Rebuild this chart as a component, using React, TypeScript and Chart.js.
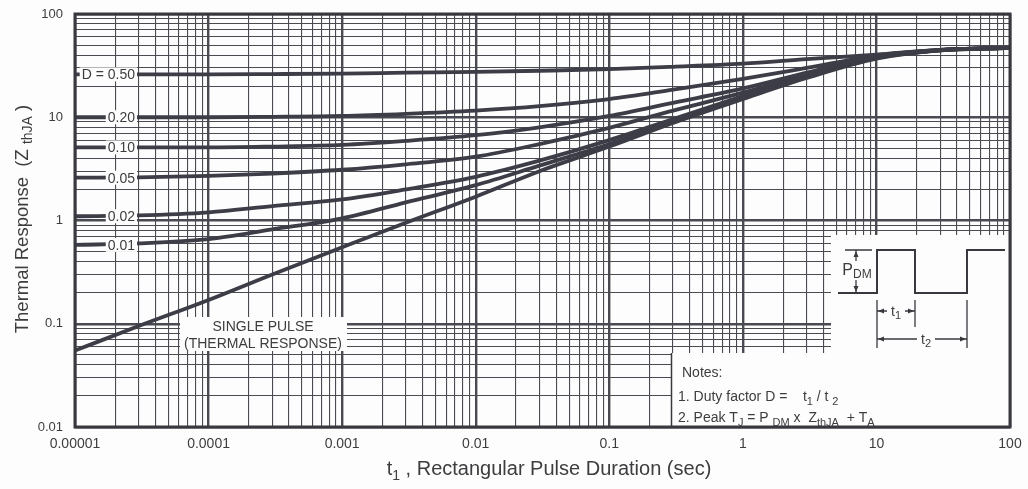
import React, { useEffect, useRef } from 'react';
import { Chart, registerables } from 'chart.js';
Chart.register(...registerables);

// ---------- data ----------
const pulseDuration = [1e-5, 3e-5, 1e-4, 3e-4, 1e-3, 3e-3, 1e-2, 3e-2, 0.1, 0.3, 1, 3, 10, 30, 100];
const dutyLabels = ['D = 0.50', '0.20', '0.10', '0.05', '0.02', '0.01'];
const zD050 = [26, 26, 26, 26.2, 26.5, 27, 27.5, 28.2, 29.2, 30.8, 33, 36.5, 40.5, 45, 47];
const zD020 = [10, 10, 10, 10.1, 10.3, 10.8, 11.6, 12.8, 15, 18.5, 23.5, 30, 39.5, 45, 47];
const zD010 = [5.1, 5.1, 5.1, 5.2, 5.4, 5.9, 6.7, 8.0, 10.3, 13.8, 19, 27, 39, 45, 47];
const zD005 = [2.6, 2.62, 2.7, 2.85, 3.1, 3.5, 4.15, 5.5, 7.9, 11.6, 17.3, 26, 38.5, 44.5, 47];
const zD002 = [1.1, 1.12, 1.2, 1.38, 1.6, 2.0, 2.65, 3.8, 6.0, 9.6, 16, 25, 38, 44.5, 47];
const zD001 = [0.58, 0.6, 0.66, 0.82, 1.05, 1.5, 2.2, 3.4, 5.5, 9.2, 15.3, 24.5, 37.5, 44.5, 47];
const zSingle = [0.055, 0.095, 0.17, 0.3, 0.55, 0.95, 1.7, 3.0, 5.2, 8.8, 15, 24, 37, 44.5, 47];

const xDecades = [1e-5, 1e-4, 1e-3, 1e-2, 1e-1, 1, 10, 100];
const xDecadeLabels = ['0.00001', '0.0001', '0.001', '0.01', '0.1', '1', '10', '100'];
const yDecades = [0.01, 0.1, 1, 10, 100];
const yDecadeLabels = ['0.01', '0.1', '1', '10', '100'];
const minorSteps = [1, 2, 3, 4, 5, 6, 7, 8, 9];

// ---------- style ----------
const FONT = "'Liberation Sans', Arial, Helvetica, sans-serif";
const GRID = '#4a4a52';
const CURVE = '#3c3d46';
const TEXT = '#3d3d40';
const FRAME = '#38383f';
const BG = '#fdfdfd';

function logTicks(decades: number[]) {
  const out: { value: number }[] = [];
  decades.forEach((d, i) => {
    if (i === decades.length - 1) {
      out.push({ value: d });
      return;
    }
    minorSteps.forEach((m) => out.push({ value: +(d * m).toPrecision(6) }));
  });
  return out;
}
function isDecade(v: number) {
  const l = Math.log10(v);
  return Math.abs(l - Math.round(l)) < 1e-6;
}
function labelFor(v: number, decs: number[], labels: string[]) {
  const i = decs.findIndex((d) => Math.abs(Math.log10(d) - Math.log10(v)) < 1e-6);
  return i >= 0 ? labels[i] : '';
}

type Part = [string, boolean?];
function drawRich(
  ctx: CanvasRenderingContext2D,
  parts: Part[],
  x: number,
  y: number,
  size: number,
  subSize: number,
  subDy: number,
  align: 'left' | 'center'
) {
  const fN = `${size}px ${FONT}`;
  const fS = `${subSize}px ${FONT}`;
  let total = 0;
  parts.forEach(([t, sub]) => {
    ctx.font = sub ? fS : fN;
    total += ctx.measureText(t).width;
  });
  let cx = align === 'center' ? x - total / 2 : x;
  ctx.textAlign = 'left';
  ctx.textBaseline = 'alphabetic';
  parts.forEach(([t, sub]) => {
    ctx.font = sub ? fS : fN;
    ctx.fillText(t, cx, sub ? y + subDy : y);
    cx += ctx.measureText(t).width;
  });
}

function arrowHead(ctx: CanvasRenderingContext2D, x: number, y: number, dx: number, dy: number) {
  const len = 6;
  const w = 2.5;
  const bx = x - dx * len;
  const by = y - dy * len;
  ctx.beginPath();
  ctx.moveTo(x, y);
  ctx.lineTo(bx - dy * w, by + dx * w);
  ctx.lineTo(bx + dy * w, by - dx * w);
  ctx.closePath();
  ctx.fill();
}

const decor = {
  id: 'decor',
  beforeDraw(chart: any) {
    const { ctx, width, height } = chart;
    ctx.save();
    ctx.fillStyle = BG;
    ctx.fillRect(0, 0, width, height);
    ctx.restore();
  },
  beforeDatasetsDraw(chart: any) {
    const { ctx, chartArea: ca } = chart;
    ctx.save();
    ctx.fillStyle = BG;
    ctx.fillRect(180, 317, 167, 34);
    ctx.fillRect(831, 235, ca.right - 831, 353 - 235);
    ctx.fillRect(671, 353, ca.right - 671, ca.bottom - 353);
    ctx.strokeStyle = FRAME;
    ctx.lineWidth = 1.5;
    ctx.beginPath();
    ctx.moveTo(671.5, 353);
    ctx.lineTo(671.5, ca.bottom);
    ctx.stroke();
    ctx.restore();
  },
  afterDatasetsDraw(chart: any) {
    const { ctx, chartArea: ca } = chart;
    const yScale = chart.scales.y;
    const series = [zD050, zD020, zD010, zD005, zD002, zD001];
    ctx.save();
    ctx.font = `14px ${FONT}`;
    ctx.textBaseline = 'middle';
    ctx.textAlign = 'right';
    series.forEach((s, i) => {
      const y = yScale.getPixelForValue(s[0]);
      const rx = ca.left + 60;
      const w = ctx.measureText(dutyLabels[i]).width;
      ctx.fillStyle = BG;
      ctx.fillRect(rx - w - 2, y - 7, w + 4, 14);
      ctx.fillStyle = TEXT;
      ctx.fillText(dutyLabels[i], rx, y + 1);
    });

    ctx.fillStyle = TEXT;
    ctx.textAlign = 'center';
    ctx.textBaseline = 'alphabetic';
    ctx.font = `14px ${FONT}`;
    ctx.fillText('SINGLE PULSE', 263, 331);
    ctx.fillText('(THERMAL RESPONSE)', 263, 348);

    // pulse diagram
    ctx.strokeStyle = FRAME;
    ctx.fillStyle = FRAME;
    ctx.lineWidth = 2;
    ctx.beginPath();
    ctx.moveTo(838, 293);
    ctx.lineTo(877, 293);
    ctx.lineTo(877, 250);
    ctx.lineTo(915, 250);
    ctx.lineTo(915, 293);
    ctx.lineTo(967, 293);
    ctx.lineTo(967, 250);
    ctx.lineTo(1005, 250);
    ctx.stroke();
    ctx.lineWidth = 1.3;
    ctx.beginPath();
    ctx.moveTo(845, 250);
    ctx.lineTo(872, 250);
    ctx.moveTo(856, 250);
    ctx.lineTo(856, 261);
    ctx.moveTo(856, 280);
    ctx.lineTo(856, 293);
    ctx.moveTo(877, 300);
    ctx.lineTo(877, 348);
    ctx.moveTo(915, 300);
    ctx.lineTo(915, 327);
    ctx.moveTo(967, 300);
    ctx.lineTo(967, 348);
    ctx.moveTo(877, 311);
    ctx.lineTo(887, 311);
    ctx.moveTo(905, 311);
    ctx.lineTo(915, 311);
    ctx.moveTo(877, 339);
    ctx.lineTo(917, 339);
    ctx.moveTo(935, 339);
    ctx.lineTo(967, 339);
    ctx.stroke();
    arrowHead(ctx, 856, 251, 0, -1);
    arrowHead(ctx, 856, 292, 0, 1);
    arrowHead(ctx, 878, 311, -1, 0);
    arrowHead(ctx, 914, 311, 1, 0);
    arrowHead(ctx, 878, 339, -1, 0);
    arrowHead(ctx, 966, 339, 1, 0);
    ctx.fillStyle = TEXT;
    drawRich(ctx, [['P'], ['DM', true]], 857, 275, 16, 12, 3, 'center');
    drawRich(ctx, [['t'], ['1', true]], 896, 316, 14, 11, 3, 'center');
    drawRich(ctx, [['t'], ['2', true]], 926, 344, 14, 11, 3, 'center');

    // notes
    ctx.font = `14px ${FONT}`;
    ctx.textAlign = 'left';
    ctx.fillText('Notes:', 682, 377);
    drawRich(ctx, [['1. Duty factor D =    t'], ['1', true], [' / t '], ['2', true]], 678, 401, 14, 11, 4, 'left');
    drawRich(
      ctx,
      [['2. Peak T'], ['J', true], [' = P '], ['DM', true], [' x  Z'], ['thJA', true], ['  + T'], ['A', true]],
      678,
      422,
      14,
      11,
      4,
      'left'
    );

    // frame
    ctx.strokeStyle = FRAME;
    ctx.lineWidth = 3;
    ctx.strokeRect(ca.left, ca.top, ca.right - ca.left, ca.bottom - ca.top);

    // axis titles
    ctx.fillStyle = TEXT;
    drawRich(ctx, [['t'], ['1', true], [' , Rectangular Pulse Duration (sec)']], 549, 475, 20, 14, 5, 'center');
    ctx.translate(28, 219);
    ctx.rotate(-Math.PI / 2);
    drawRich(ctx, [['Thermal Response  (Z '], ['thJA', true], [' )']], 0, 0, 18.5, 14, 4, 'center');
    ctx.restore();
  },
};

export default function App() {
  const ref = useRef<HTMLCanvasElement>(null);
  useEffect(() => {
    const canvas = ref.current!;
    const series = [zD050, zD020, zD010, zD005, zD002, zD001, zSingle];
    const chart = new Chart(canvas, {
      type: 'line',
      data: {
        datasets: series.map((s, i) => ({
          label: i < dutyLabels.length ? dutyLabels[i] : 'SINGLE PULSE',
          data: pulseDuration.map((t, j) => ({ x: t, y: s[j] })),
          borderColor: CURVE,
          borderWidth: 3.8,
          pointRadius: 0,
          fill: false,
          cubicInterpolationMode: 'monotone' as const,
        })),
      },
      options: {
        responsive: false,
        animation: false,
        devicePixelRatio: 1,
        layout: { padding: { top: 14, right: 18, left: 0, bottom: 0 } },
        plugins: { legend: { display: false }, tooltip: { enabled: false } },
        scales: {
          x: {
            type: 'logarithmic',
            min: 1e-5,
            max: 100,
            afterBuildTicks: (s: any) => {
              s.ticks = logTicks(xDecades);
            },
            afterFit: (s: any) => {
              s.height = 62;
              s.paddingLeft = 0;
              s.paddingRight = 0;
            },
            ticks: {
              autoSkip: false,
              maxRotation: 0,
              minRotation: 0,
              padding: 9,
              color: TEXT,
              font: { family: FONT, size: 14 },
              callback: (v: any) => labelFor(Number(v), xDecades, xDecadeLabels),
            },
            grid: {
              color: GRID,
              lineWidth: (c: any) => (c.tick && isDecade(c.tick.value) ? 2.4 : 1.1),
              drawTicks: false,
            },
            border: { display: false },
          },
          y: {
            type: 'logarithmic',
            min: 0.01,
            max: 100,
            afterBuildTicks: (s: any) => {
              s.ticks = logTicks(yDecades);
            },
            afterFit: (s: any) => {
              s.width = 75;
              s.paddingTop = 0;
              s.paddingBottom = 0;
            },
            ticks: {
              autoSkip: false,
              padding: 12,
              color: TEXT,
              font: { family: FONT, size: 13 },
              callback: (v: any) => labelFor(Number(v), yDecades, yDecadeLabels),
            },
            grid: {
              color: GRID,
              lineWidth: (c: any) => (c.tick && isDecade(c.tick.value) ? 2.4 : 1.1),
              drawTicks: false,
            },
            border: { display: false },
          },
        },
      } as any,
      plugins: [decor],
    });
    return () => chart.destroy();
  }, []);
  return (
    <canvas
      ref={ref}
      width={1028}
      height={489}
      style={{ position: 'fixed', left: 0, top: 0, display: 'block', width: 1028, height: 489 }}
    />
  );
}
